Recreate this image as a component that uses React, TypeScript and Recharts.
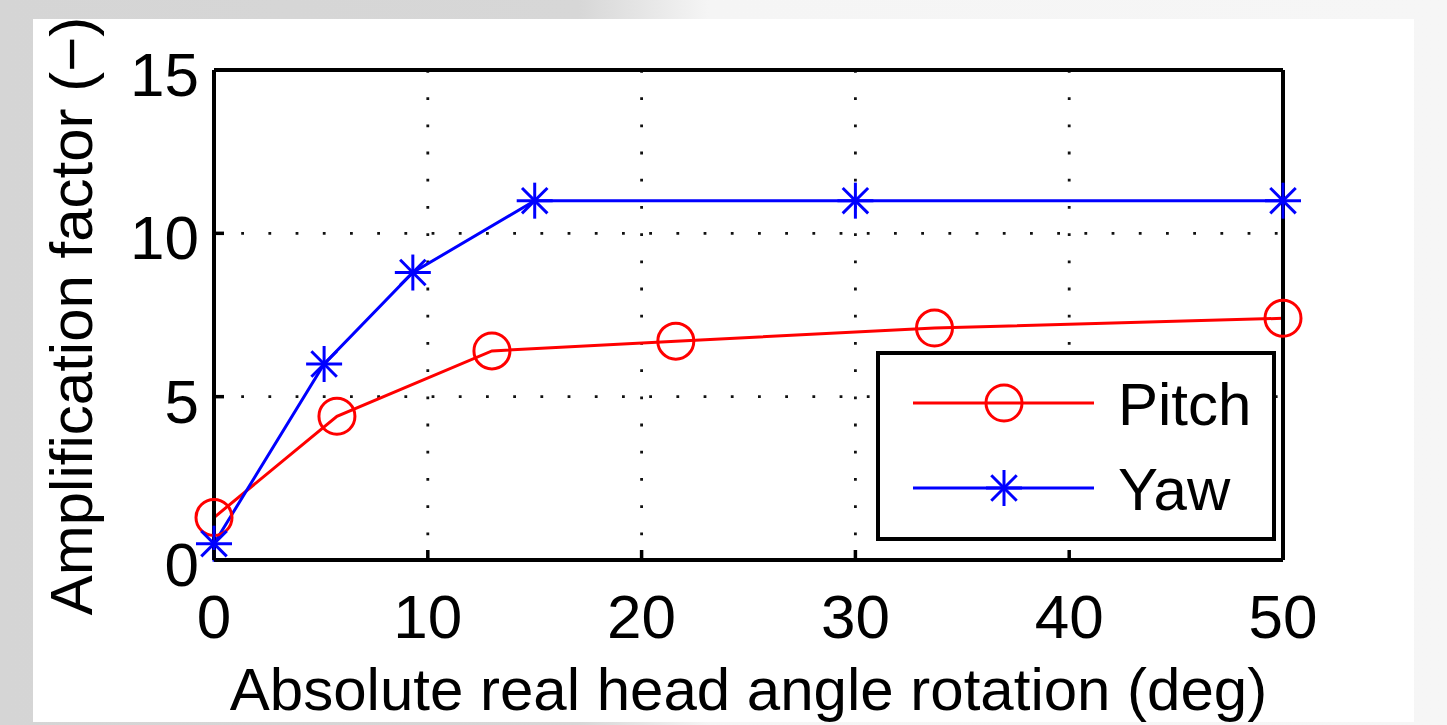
import React from "react"
import { CartesianGrid, Legend, Line, LineChart, XAxis, YAxis } from "recharts"

// angle (deg) / amplification factor
const pitchAngle = [0, 5.75, 13.0, 21.6, 33.7, 50]
const pitchValue = [1.3, 4.4, 6.4, 6.7, 7.1, 7.4]
const yawAngle = [0, 5.15, 9.3, 15, 30, 50]
const yawValue = [0.5, 6.0, 8.8, 11, 11, 11]

const xTicks = [0, 10, 20, 30, 40, 50]
const yTicks = [0, 5, 10, 15]

const pitchData = pitchAngle.map((a, i) => ({ angle: a, value: pitchValue[i] }))
const yawData = yawAngle.map((a, i) => ({ angle: a, value: yawValue[i] }))

const RED = "#ff0000"
const BLUE = "#0000ff"
const FONT = "'Liberation Sans', Arial, Helvetica, sans-serif"
const LW = 3

const W = 1447
const H = 725
const PLOT = { left: 214, top: 70, right: 1283, bottom: 560 }

function circleMarker(cx: number, cy: number, key?: string) {
  return <circle key={key} cx={cx} cy={cy} r={18} fill="none" stroke={RED} strokeWidth={LW} />
}

function starMarker(cx: number, cy: number, key?: string) {
  const r = 18
  const d = r * 0.7071
  return (
    <g key={key} stroke={BLUE} strokeWidth={LW}>
      <line x1={cx - r} y1={cy} x2={cx + r} y2={cy} />
      <line x1={cx} y1={cy - r} x2={cx} y2={cy + r} />
      <line x1={cx - d} y1={cy - d} x2={cx + d} y2={cy + d} />
      <line x1={cx - d} y1={cy + d} x2={cx + d} y2={cy - d} />
    </g>
  )
}

// ticks point inwards like matlab, labels placed by hand
const BottomTick = (props: any) => {
  const { x, y, payload } = props
  return (
    <g>
      <line x1={x} y1={y} x2={x} y2={y - 10} stroke="#000" strokeWidth={3.5} />
      <text x={x} y={638} textAnchor="middle" fontFamily={FONT} fontSize={62} fill="#000">
        {payload.value}
      </text>
    </g>
  )
}

const TopTick = (props: any) => {
  const { x, y } = props
  return <line x1={x} y1={y} x2={x} y2={y + 9} stroke="#000" strokeWidth={3.5} />
}

const LeftTick = (props: any) => {
  const { x, y, payload } = props
  return (
    <g>
      <line x1={x} y1={y} x2={x + 10} y2={y} stroke="#000" strokeWidth={3.5} />
      <text x={199} y={y + 26} textAnchor="end" fontFamily={FONT} fontSize={62} fill="#000">
        {payload.value}
      </text>
    </g>
  )
}

const RightTick = (props: any) => {
  const { x, y } = props
  return <line x1={x} y1={y} x2={x - 10} y2={y} stroke="#000" strokeWidth={3.5} />
}

const LegendBox = () => (
  <div
    style={{
      width: 400,
      height: 190,
      boxSizing: "border-box",
      border: "4px solid #000",
      background: "#fff",
      position: "relative",
    }}
  >
    <svg width={400} height={190} style={{ position: "absolute", left: -4, top: -4 }}>
      <line x1={37} y1={52} x2={218} y2={52} stroke={RED} strokeWidth={LW} />
      {circleMarker(128, 52)}
      <text x={242} y={74} fontFamily={FONT} fontSize={60} fill="#000">Pitch</text>
      <line x1={37} y1={137} x2={218} y2={137} stroke={BLUE} strokeWidth={LW} />
      {starMarker(128, 137)}
      <text x={242} y={159} fontFamily={FONT} fontSize={60} fill="#000">Yaw</text>
    </svg>
  </div>
)

const boxLine = { stroke: "#000", strokeWidth: 4 }

export default function App() {
  return (
    <div
      style={{
        position: "absolute",
        left: 0,
        top: 0,
        width: W,
        height: H,
        background: "linear-gradient(90deg, #d5d5d5 0%, #d7d7d7 40%, #f5f5f5 49%, #f6f6f6 100%)",
      }}
    >
      <div style={{ position: "absolute", left: 33, top: 19, width: 1381, height: 703, background: "#fff" }} />
      <div style={{ position: "absolute", left: 0, top: 0 }}>
        <LineChart width={W} height={H} margin={{ top: 0, right: 0, bottom: 0, left: 0 }}>
          <CartesianGrid
            xAxisId="bottom"
            yAxisId="left"
            stroke="#111"
            strokeWidth={2.8}
            strokeDasharray="2.8 24.4"
            horizontalValues={yTicks}
            verticalValues={xTicks}
          />
          <XAxis
            xAxisId="bottom"
            dataKey="angle"
            type="number"
            domain={[0, 50]}
            ticks={xTicks}
            height={H - PLOT.bottom}
            tickSize={0}
            tickMargin={0}
            tickLine={false}
            axisLine={boxLine}
            tick={<BottomTick />}
            interval={0}
            label={{
              value: "Absolute real head angle rotation (deg)",
              position: "insideBottom",
              offset: 15,
              fontFamily: FONT,
              fontSize: 60,
              fill: "#000",
            }}
          />
          <XAxis
            xAxisId="top"
            orientation="top"
            dataKey="angle"
            type="number"
            domain={[0, 50]}
            ticks={xTicks}
            height={PLOT.top}
            tickSize={0}
            tickMargin={0}
            tickLine={false}
            axisLine={boxLine}
            tick={<TopTick />}
            interval={0}
          />
          <YAxis
            yAxisId="left"
            type="number"
            domain={[0, 15]}
            ticks={yTicks}
            width={PLOT.left}
            tickSize={0}
            tickMargin={0}
            tickLine={false}
            axisLine={boxLine}
            tick={<LeftTick />}
            interval={0}
          />
          <YAxis
            yAxisId="right"
            orientation="right"
            type="number"
            domain={[0, 15]}
            ticks={yTicks}
            width={W - PLOT.right}
            tickSize={0}
            tickMargin={0}
            tickLine={false}
            axisLine={boxLine}
            tick={<RightTick />}
            interval={0}
          />
          <Line
            xAxisId="bottom"
            yAxisId="left"
            data={pitchData}
            dataKey="value"
            name="Pitch"
            stroke={RED}
            strokeWidth={LW}
            isAnimationActive={false}
            dot={(p: any) => circleMarker(p.cx, p.cy, `p-${p.index}`)}
            activeDot={false}
          />
          <Line
            xAxisId="bottom"
            yAxisId="left"
            data={yawData}
            dataKey="value"
            name="Yaw"
            stroke={BLUE}
            strokeWidth={LW}
            isAnimationActive={false}
            dot={(p: any) => starMarker(p.cx, p.cy, `y-${p.index}`)}
            activeDot={false}
          />
          <Legend
            layout="horizontal"
            verticalAlign="middle"
            align="center"
            content={<LegendBox />}
            wrapperStyle={{ left: 876, top: 351, width: 400, height: 190 }}
          />
        </LineChart>
      </div>
      <svg
        width={120}
        height={H}
        style={{ position: "absolute", left: 0, top: 0, pointerEvents: "none" }}
      >
        <text
          x={92}
          y={316}
          transform="rotate(-90 92 316)"
          textAnchor="middle"
          fontFamily={FONT}
          fontSize={60}
          fill="#000"
        >
          Amplification factor (−)
        </text>
      </svg>
    </div>
  )
}
